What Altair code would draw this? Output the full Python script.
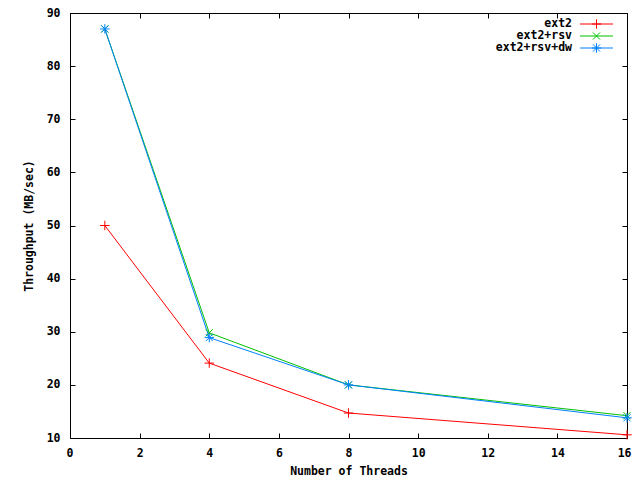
import altair as alt
import pandas as pd

threads = [1, 4, 8, 16]
series = ["ext2", "ext2+rsv", "ext2+rsv+dw"]
ext2 = [50.0, 24.1, 14.7, 10.6]
ext2_rsv = [87.0, 29.8, 20.0, 14.2]
ext2_rsv_dw = [87.0, 28.9, 20.0, 13.8]
colors = ["#ff0000", "#00c000", "#0080ff"]
shapes = [
    "M-1,0L1,0M0,-1L0,1",
    "M-0.75,-0.75L0.75,0.75M-0.75,0.75L0.75,-0.75",
    "M-1,0L1,0M0,-1L0,1M-0.75,-0.75L0.75,0.75M-0.75,0.75L0.75,-0.75",
]
x_ticks = list(range(0, 17, 2))
y_ticks = list(range(10, 91, 10))

rows = []
for name, vals in zip(series, [ext2, ext2_rsv, ext2_rsv_dw]):
    for t, v in zip(threads, vals):
        rows.append({"threads": t, "tp": v, "series": name})
df = pd.DataFrame(rows)

FONT = "DejaVu Sans Mono"
FS = 11.5
TS = 5

color = alt.Color("series:N", scale=alt.Scale(domain=series, range=colors), legend=None)
shape = alt.Shape("series:N", scale=alt.Scale(domain=series, range=shapes), legend=None)

xax = alt.Axis(values=x_ticks, grid=False, domain=False, tickSize=TS, offset=-TS,
               labelPadding=9, labelFont=FONT, labelFontSize=FS, labelFontWeight="bold",
               labelColor="black", tickColor="black", title="Number of Threads",
               labelFlush=True, labelFlushOffset=4, labelOverlap=False, labelBound=False,
               titleFont=FONT, titleFontSize=FS, titleFontWeight="bold", titlePadding=7,
               titleColor="black")
yax = alt.Axis(values=y_ticks, grid=False, domain=False, tickSize=TS, offset=-TS,
               labelPadding=10, labelFont=FONT, labelFontSize=FS, labelFontWeight="bold",
               labelColor="black", tickColor="black", title="Throughput (MB/sec)",
               labelFlush=False, labelOverlap=False, labelBound=False,
               titleFont=FONT, titleFontSize=FS, titleFontWeight="bold", titlePadding=12,
               titleColor="black")
xax2 = alt.Axis(values=x_ticks, grid=False, domain=False, tickSize=TS, offset=-TS,
                labels=False, title=None, orient="top", tickColor="black")
yax2 = alt.Axis(values=y_ticks, grid=False, domain=False, tickSize=TS, offset=-TS,
                labels=False, title=None, orient="right", tickColor="black")

xs = alt.Scale(domain=[0, 16], nice=False, zero=False)
ys = alt.Scale(domain=[10, 90], nice=False, zero=False)

base = alt.Chart(df)
lines = base.mark_line(strokeWidth=1, clip=True).encode(
    x=alt.X("threads:Q", scale=xs, axis=xax),
    y=alt.Y("tp:Q", scale=ys, axis=yax),
    color=color,
    detail="series:N",
)
points = base.mark_point(filled=False, strokeWidth=1, size=90, opacity=1).encode(
    x=alt.X("threads:Q", scale=xs, axis=xax2),
    y=alt.Y("tp:Q", scale=ys, axis=yax2),
    color=color,
    shape=shape,
)

legend_layers = []
leg_y = [11, 23, 35]
for name, c, s, yy in zip(series, colors, shapes, leg_y):
    ldf = pd.DataFrame({"series": [name]})
    lb = alt.Chart(ldf)
    legend_layers.append(
        lb.mark_text(align="right", baseline="middle", font=FONT, fontSize=FS,
                     fontWeight="bold", color="black").encode(
            text="series:N", x=alt.value(502), y=alt.value(yy))
    )
    legend_layers.append(
        lb.mark_rule(color=c, strokeWidth=1).encode(
            x=alt.value(510), x2=alt.value(543), y=alt.value(yy))
    )
    legend_layers.append(
        lb.mark_point(shape=s, color=c, filled=False, strokeWidth=1, size=90, opacity=1).encode(
            x=alt.value(526.5), y=alt.value(yy))
    )

chart = alt.layer(lines, points, *legend_layers).resolve_axis(
    x="independent", y="independent"
).resolve_scale(x="shared", y="shared").properties(
    width=557, height=425,
    autosize=alt.AutoSizeParams(type="none"),
    padding={"left": 62, "top": 5, "right": 5, "bottom": 40},
    background="white",
).configure_view(stroke="black", strokeWidth=1)

chart.save("out.html", embed_options={"renderer": "svg", "actions": False})
